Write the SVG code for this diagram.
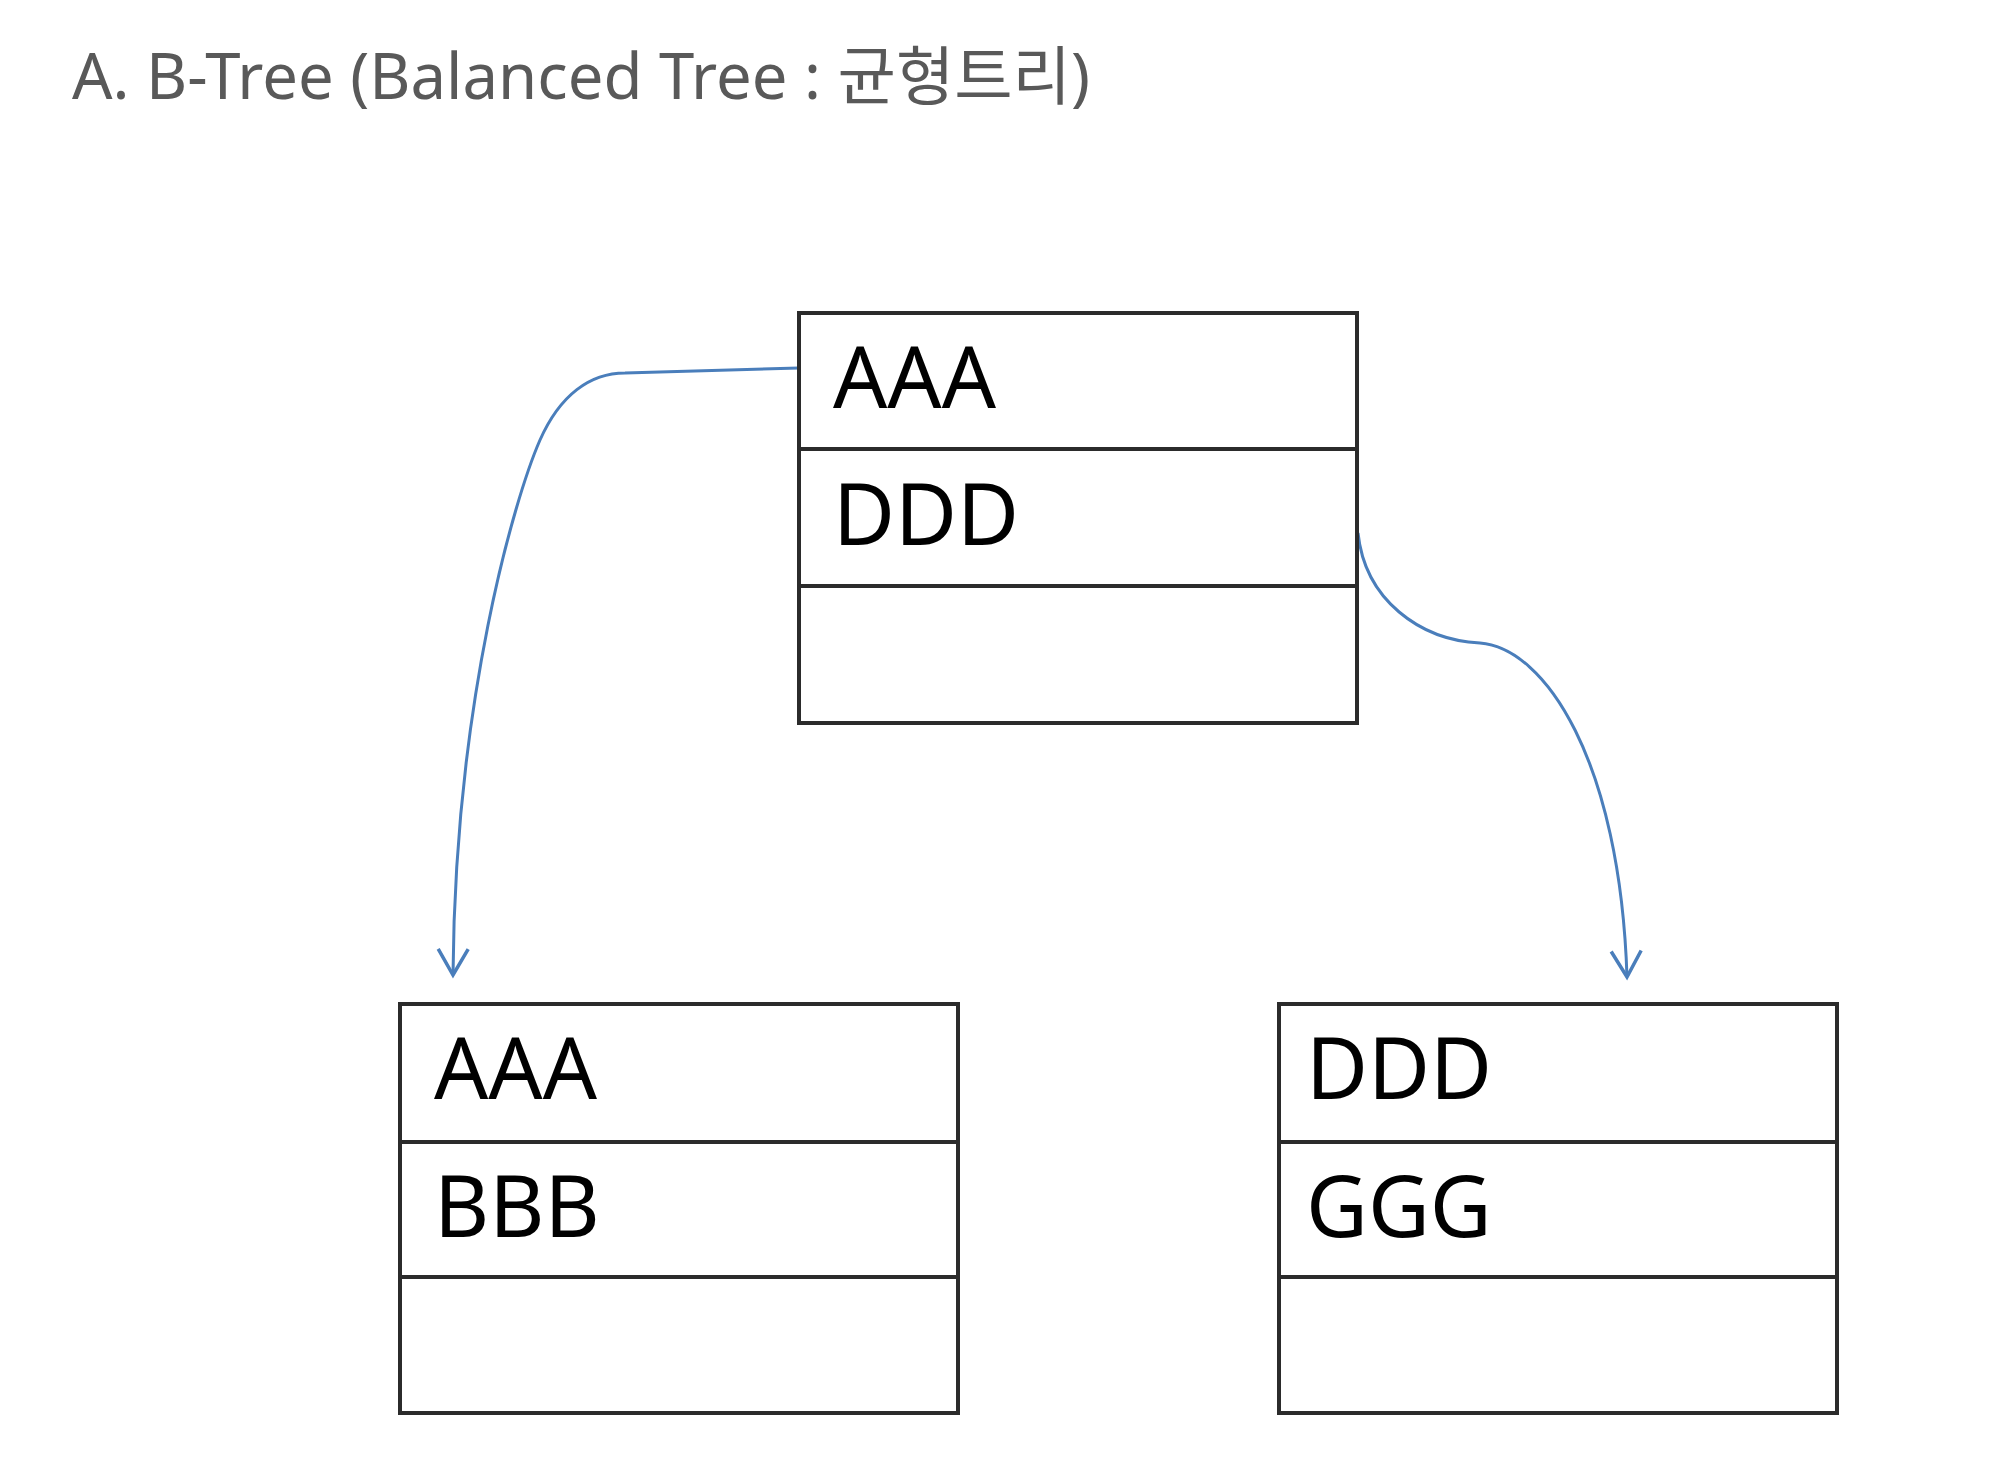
<svg xmlns="http://www.w3.org/2000/svg" width="2000" height="1478" viewBox="0 0 2000 1478">
<style>
.box{fill:#ffffff;stroke:#2b2b2b;stroke-width:4}
.div{stroke:#2b2b2b;stroke-width:4}
.lbl{font-family:"Noto Sans","Noto Sans CJK KR",sans-serif;font-size:85px;fill:#000000}
.title{font-family:"Noto Sans","Noto Sans CJK KR",sans-serif;font-size:64px;fill:#595959}
.conn{fill:none;stroke:#4a7ebb;stroke-width:3}
</style>
<defs>
<marker id="arr" markerUnits="userSpaceOnUse" markerWidth="40" markerHeight="40" viewBox="-30 -20 34 40" refX="0" refY="0" orient="auto">
<path d="M-26,-15 L0,0 L-26,15" fill="none" stroke="#4a7ebb" stroke-width="3.5"/>
</marker>
</defs>
<rect width="2000" height="1478" fill="#ffffff"/>
<text class="title" x="72" y="99" textLength="1018" lengthAdjust="spacingAndGlyphs">A. B-Tree (Balanced Tree : 균형트리)</text>
<g id="connectors">
<path class="conn" d="M799,368 L625,373 C590,373 560,395 540,440 C515,497 455,700 453,975" marker-end="url(#arr)"/>
<path class="conn" d="M1358,533 C1365,600 1420,640 1480,643 C1545,648 1620,760 1627,977" marker-end="url(#arr)"/>
</g>
<g id="node-root">
<rect class="box" x="799" y="313" width="558" height="410"/>
<line class="div" x1="799" y1="449" x2="1357" y2="449"/>
<line class="div" x1="799" y1="586" x2="1357" y2="586"/>
<text class="lbl" x="833" y="408">AAA</text>
<text class="lbl" x="833" y="545">DDD</text>
</g>
<g id="node-left">
<rect class="box" x="400" y="1004" width="558" height="409"/>
<line class="div" x1="400" y1="1142" x2="958" y2="1142"/>
<line class="div" x1="400" y1="1277" x2="958" y2="1277"/>
<text class="lbl" x="434" y="1099">AAA</text>
<text class="lbl" x="434" y="1237">BBB</text>
</g>
<g id="node-right">
<rect class="box" x="1279" y="1004" width="558" height="409"/>
<line class="div" x1="1279" y1="1142" x2="1837" y2="1142"/>
<line class="div" x1="1279" y1="1277" x2="1837" y2="1277"/>
<text class="lbl" x="1306" y="1099">DDD</text>
<text class="lbl" x="1306" y="1237">GGG</text>
</g>
</svg>
